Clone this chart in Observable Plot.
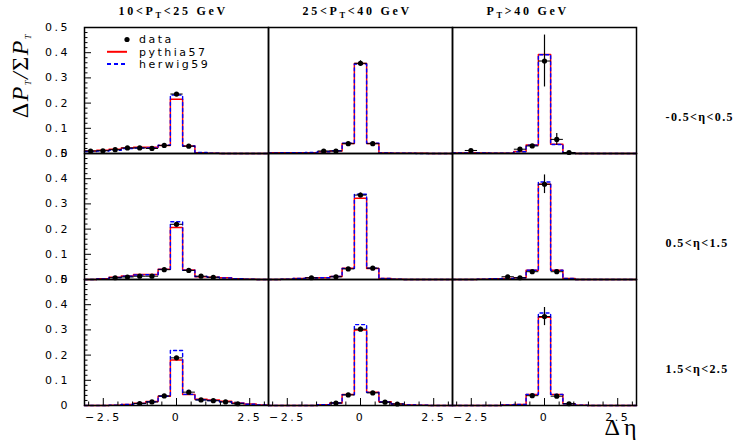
<!DOCTYPE html>
<html><head><meta charset="utf-8">
<script src="https://cdn.jsdelivr.net/npm/d3@7"></script>
<script src="https://cdn.jsdelivr.net/npm/@observablehq/plot@0.6"></script>
<style>
html,body{margin:0;padding:0;background:#fff}
#chart svg{display:block}
</style></head><body><div id="chart"></div>
<script>
// ---------- categories ----------
const ptBins  = ["10<P_T<25 GeV", "25<P_T<40 GeV", "P_T>40 GeV"];
const etaBins = ["-0.5<η<0.5", "0.5<η<1.5", "1.5<η<2.5"];
// 15 bins of Δη between -π and π
const binEdges = [-3.1416, -2.7227, -2.3038, -1.8850, -1.4661, -1.0472, -0.6283, -0.2094,
                   0.2094,  0.6283,  1.0472,  1.4661,  1.8850,  2.3038,  2.7227,  3.1416];
const xMajorTicks = [-2.5, 0, 2.5];
const xMinorTicks = [-3, -2, -1.5, -1, -0.5, 0.5, 1, 1.5, 2, 3];
const yMajorTicks = [0, 0.1, 0.2, 0.3, 0.4, 0.5];
const yMinorTicks = [0.02,0.04,0.06,0.08,0.12,0.14,0.16,0.18,0.22,0.24,0.26,0.28,0.32,0.34,0.36,0.38,0.42,0.44,0.46,0.48];
const legendItems = ["data", "pythia57", "herwig59"];
const yTitle = "ΔP_T/ΣP_T";
const xTitle = "Δη";

// ---------- values (row = η bin, column = P_T bin) ----------
const N = null;
// row 1: -0.5<η<0.5
const dataR1C1   = [0.010,0.011,0.015,0.022,0.022,0.020,0.032,0.236,0.029,N,N,N,N,N,N];
const errR1C1    = [0.003,0.003,0.003,0.003,0.003,0.003,0.004,0.006,0.004,N,N,N,N,N,N];
const pythiaR1C1 = [0.010,0.013,0.017,0.022,0.025,0.025,0.032,0.215,0.030,0.003,0.001,0,0,0,0];
const herwigR1C1 = [0.008,0.010,0.013,0.020,0.022,0.022,0.033,0.232,0.030,0.004,0.001,0,0,0,0];

const dataR1C2   = [N,N,N,N,0.010,0.010,0.039,0.358,0.039,N,N,N,N,N,N];
const errR1C2    = [N,N,N,N,0.003,0.003,0.005,0.010,0.005,N,N,N,N,N,N];
const pythiaR1C2 = [0.003,0.003,0.003,0.003,0.007,0.010,0.040,0.357,0.040,0.002,0.001,0.001,0.001,0,0];
const herwigR1C2 = [0.002,0.003,0.003,0.004,0.007,0.011,0.041,0.355,0.041,0.002,0.001,0.001,0,0,0];

const dataR1C3   = [N,0.012,N,N,N,0.017,0.030,0.367,0.056,0.004,N,N,N,N,N];
const errR1C3    = [N,0.003,N,N,N,0.003,0.005,0.103,0.023,0.003,N,N,N,N,N];
const pythiaR1C3 = [0.002,0.003,0.002,0.001,0.001,0.008,0.034,0.393,0.037,0.003,0,0,0,0,0];
const herwigR1C3 = [0.002,0.002,0.002,0.001,0.001,0.007,0.033,0.392,0.036,0.002,0,0,0,0,0];

// row 2: 0.5<η<1.5
const dataR2C1   = [N,N,0.007,0.010,0.013,0.013,0.039,0.219,0.036,0.013,0.009,N,N,N,N];
const errR2C1    = [N,N,0.003,0.003,0.003,0.003,0.004,0.006,0.004,0.003,0.003,N,N,N,N];
const pythiaR2C1 = [0,0.003,0.009,0.014,0.020,0.020,0.041,0.206,0.038,0.011,0.009,0.007,0.003,0.001,0];
const herwigR2C1 = [0,0.002,0.008,0.013,0.018,0.019,0.040,0.229,0.037,0.012,0.009,0.006,0.003,0.001,0];

const dataR2C2   = [N,N,N,0.007,N,0.011,0.042,0.335,0.045,N,N,N,N,N,N];
const errR2C2    = [N,N,N,0.003,N,0.003,0.005,0.008,0.005,N,N,N,N,N,N];
const pythiaR2C2 = [0,0.001,0.004,0.007,0.007,0.012,0.045,0.322,0.044,0.004,0.001,0,0,0,0];
const herwigR2C2 = [0,0.001,0.004,0.006,0.007,0.012,0.044,0.338,0.045,0.004,0.001,0,0,0,0];

const dataR2C3   = [N,N,N,N,0.011,0.007,0.031,0.378,0.031,N,N,N,N,N,N];
const errR2C3    = [N,N,N,N,0.004,0.003,0.005,0.037,0.005,N,N,N,N,N,N];
const pythiaR2C3 = [0,0,0.001,0.003,0.004,0.007,0.037,0.378,0.037,0.004,0,0,0,0,0];
const herwigR2C3 = [0,0,0.001,0.003,0.004,0.007,0.037,0.387,0.037,0.004,0,0,0,0,0];

// row 3: 1.5<η<2.5
const dataR3C1   = [N,N,N,N,0.008,0.014,0.038,0.189,0.053,0.022,0.019,0.014,0.007,N,N];
const errR3C1    = [N,N,N,N,0.003,0.003,0.004,0.006,0.004,0.003,0.003,0.003,0.003,N,N];
const pythiaR3C1 = [0,0,0.001,0.004,0.009,0.016,0.037,0.181,0.044,0.025,0.022,0.017,0.010,0.006,0.002];
const herwigR3C1 = [0,0,0.001,0.004,0.008,0.015,0.037,0.218,0.044,0.023,0.020,0.015,0.009,0.005,0.002];

const dataR3C2   = [N,N,N,N,N,0.010,0.042,0.303,0.050,0.013,0.006,N,N,N,N];
const errR3C2    = [N,N,N,N,N,0.003,0.004,0.008,0.005,0.003,0.003,N,N,N,N];
const pythiaR3C2 = [0,0,0,0,0.003,0.010,0.044,0.300,0.053,0.015,0.006,0.002,0.001,0,0];
const herwigR3C2 = [0,0,0,0,0.003,0.010,0.043,0.321,0.052,0.014,0.006,0.002,0.001,0,0];

const dataR3C3   = [N,N,N,N,N,N,0.039,0.353,0.037,0.007,N,N,N,N,N];
const errR3C3    = [N,N,N,N,N,N,0.005,0.036,0.005,0.003,N,N,N,N,N];
const pythiaR3C3 = [0,0,0,0,0.002,0.004,0.044,0.350,0.044,0.007,0.001,0,0,0,0];
const herwigR3C3 = [0,0,0,0,0.002,0.004,0.044,0.367,0.044,0.007,0.001,0,0,0,0];

const panels = [
  [0,0,dataR1C1,errR1C1,pythiaR1C1,herwigR1C1],
  [0,1,dataR1C2,errR1C2,pythiaR1C2,herwigR1C2],
  [0,2,dataR1C3,errR1C3,pythiaR1C3,herwigR1C3],
  [1,0,dataR2C1,errR2C1,pythiaR2C1,herwigR2C1],
  [1,1,dataR2C2,errR2C2,pythiaR2C2,herwigR2C2],
  [1,2,dataR2C3,errR2C3,pythiaR2C3,herwigR2C3],
  [2,0,dataR3C1,errR3C1,pythiaR3C1,herwigR3C1],
  [2,1,dataR3C2,errR3C2,pythiaR3C2,herwigR3C2],
  [2,2,dataR3C3,errR3C3,pythiaR3C3,herwigR3C3]
];

// ---------- tables for the library ----------
const points = [], pyLine = [], hwLine = [];
for (const [r, c, dat, err, py, hw] of panels) {
  const eta = etaBins[r], pt = ptBins[c];
  for (let i = 0; i < 15; i++) {
    if (dat[i] != null) points.push({eta, pt, lo: binEdges[i], hi: binEdges[i+1],
      c: (binEdges[i] + binEdges[i+1]) / 2, v: dat[i], e: err[i]});
  }
  for (let i = 0; i < 16; i++) {
    pyLine.push({eta, pt, x: binEdges[i], v: py[Math.min(i, 14)]});
    hwLine.push({eta, pt, x: binEdges[i], v: hw[Math.min(i, 14)]});
  }
}
const headers = ptBins.map(pt => ({pt, eta: etaBins[0], label: pt}));
const rowLabels = etaBins.map(eta => ({pt: ptBins[2], eta, label: eta}));
const firstPanel = [{pt: ptBins[0], eta: etaBins[0], label: yTitle}];
const lastPanel = [{pt: ptBins[2], eta: etaBins[2], label: xTitle}];

const SANS = "DejaVu Sans", SERIF = "Liberation Serif";
const fmtY = d => d === 0 ? "0" : d3.format(".1f")(d);
const fmtX = d => d === 0 ? "0" : d3.format(".1f")(d).replace("-", "\u2212");

const plot = Plot.plot({
  width: 740, height: 446,
  marginLeft: 84, marginRight: 104, marginTop: 26.5, marginBottom: 41.5,
  style: {fontFamily: SANS, fontSize: "11px", background: "white", color: "black", overflow: "visible"},
  fx: {domain: ptBins, padding: 0, axis: null},
  fy: {domain: etaBins, padding: 0, axis: null},
  x: {domain: [binEdges[0], binEdges[15]]},
  y: {domain: [0, 0.5]},
  marks: [
    Plot.line(pyLine, {x: "x", y: "v", fx: "pt", fy: "eta", curve: "step-after", stroke: "#ff0000", strokeWidth: 1.5}),
    Plot.line(hwLine, {x: "x", y: "v", fx: "pt", fy: "eta", curve: "step-after", stroke: "#0000ff", strokeWidth: 1.4, strokeDasharray: "3,3"}),
    Plot.link(points, {x1: "lo", x2: "hi", y1: "v", y2: "v", fx: "pt", fy: "eta", stroke: "black", strokeWidth: 1}),
    Plot.ruleX(points, {x: "c", y1: d => d.v - d.e, y2: d => d.v + d.e, fx: "pt", fy: "eta", stroke: "black", strokeWidth: 1.2}),
    Plot.dot(points, {x: "c", y: "v", fx: "pt", fy: "eta", r: 2.6, fill: "black"}),
    Plot.frame({stroke: "black", strokeWidth: 1.5}),
    // y axis: inward ticks + labels
    Plot.axisY({ticks: yMajorTicks, tickSize: 7, dx: 7, tickFormat: () => "", label: null}),
    Plot.axisY({ticks: yMinorTicks, tickSize: 3.5, dx: 3.5, tickFormat: () => "", label: null}),
    Plot.axisY({ticks: yMajorTicks, tickSize: 0, tickPadding: 14.5, tickFormat: fmtY, label: null, fontSize: 11}),
    // x axis: inward ticks + labels
    Plot.axisX({ticks: xMajorTicks, tickSize: 7, dy: -7, tickFormat: () => "", label: null}),
    Plot.axisX({ticks: xMinorTicks, tickSize: 3.5, dy: -3.5, tickFormat: () => "", label: null}),
    Plot.axisX({ticks: xMajorTicks, tickSize: 0, tickPadding: 8, tickFormat: fmtX, label: null, fontSize: 11}),
    // column headers, row labels, titles
    Plot.text(headers, {fx: "pt", fy: "eta", text: "label", frameAnchor: "top-left", textAnchor: "start", lineAnchor: "bottom",
      dx: 34, dy: -12.5, fontFamily: SERIF, fontWeight: "bold", fontSize: 12}),
    Plot.text(rowLabels, {fx: "pt", fy: "eta", text: "label", frameAnchor: "right", textAnchor: "start", lineAnchor: "middle",
      dx: 29, dy: 27, fontFamily: SERIF, fontWeight: "bold", fontSize: 12}),
    Plot.text(firstPanel, {fx: "pt", fy: "eta", text: "label", frameAnchor: "top-left", textAnchor: "end", lineAnchor: "bottom",
      rotate: -90, dx: -57, dy: 5.5, fontFamily: SERIF, fontSize: 24}),
    Plot.text(lastPanel, {fx: "pt", fy: "eta", text: "label", frameAnchor: "bottom-right", textAnchor: "end", lineAnchor: "bottom",
      dx: 4, dy: 29.5, fontFamily: SERIF, fontSize: 24})
  ]
});

const svg = d3.select(plot);
// letter spacing on sans tick labels
svg.selectAll('g[aria-label$="tick label"]').attr("letter-spacing", 2.5);
// letter spacing for row labels and x title
svg.selectAll("text").each(function() {
  const s = this.textContent;
  if (etaBins.includes(s)) d3.select(this).attr("letter-spacing", 1.4);
  if (s === xTitle) d3.select(this).attr("letter-spacing", 4);
});

// subscripts (P_T) as real text with tspans
svg.selectAll("text").each(function() {
  const s = this.textContent;
  if (!s.includes("_")) return;
  const fs = parseFloat(getComputedStyle(this).fontSize) || 12;
  const isTitle = s === yTitle;
  const parts = s.split("_");
  const sel = d3.select(this);
  sel.text(null);
  sel.attr("letter-spacing", isTitle ? 1.5 : 2.7);
  const add = (t, opts = {}) => {
    const ts = sel.append("tspan").text(t);
    if (opts.dy) ts.attr("dy", opts.dy);
    if (opts.small) ts.attr("font-size", fs * 0.7);
    if (opts.italic) ts.attr("font-style", "italic");
    return ts;
  };
  const addRun = (str, first) => {
    if (!isTitle) { if (str) add(str, first); return; }
    let opts = first;
    for (const ch of str) { add(ch, {...opts, italic: /[A-Za-z\/]/.test(ch)}); opts = {}; }
  };
  addRun(parts[0], {});
  const shift = fs * 0.28;
  for (let i = 1; i < parts.length; i++) {
    add(parts[i][0], {dy: shift, small: true, italic: isTitle});
    const rest = parts[i].slice(1);
    if (rest) addRun(rest, {dy: -shift});
  }
});

// legend inside the first panel
const L = 84, T = 26.5;
const lg = svg.append("g").attr("font-family", SANS).attr("font-size", 11)
  .attr("letter-spacing", 2.5).attr("text-anchor", "start");
legendItems.forEach((name, i) => {
  const y = T + 13 + i * 12.3;
  if (i === 0) lg.append("circle").attr("cx", L + 43).attr("cy", y).attr("r", 2.6).attr("fill", "black");
  if (i === 1) lg.append("line").attr("x1", L + 23).attr("x2", L + 43).attr("y1", y).attr("y2", y).attr("stroke", "#ff0000").attr("stroke-width", 2);
  if (i === 2) lg.append("line").attr("x1", L + 23).attr("x2", L + 44).attr("y1", y).attr("y2", y).attr("stroke", "#0000ff").attr("stroke-width", 2).attr("stroke-dasharray", "4,3");
  lg.append("text").attr("x", L + 55).attr("y", y).attr("dy", "0.35em").text(name);
});

document.getElementById("chart").appendChild(plot);
</script>
</body></html>
